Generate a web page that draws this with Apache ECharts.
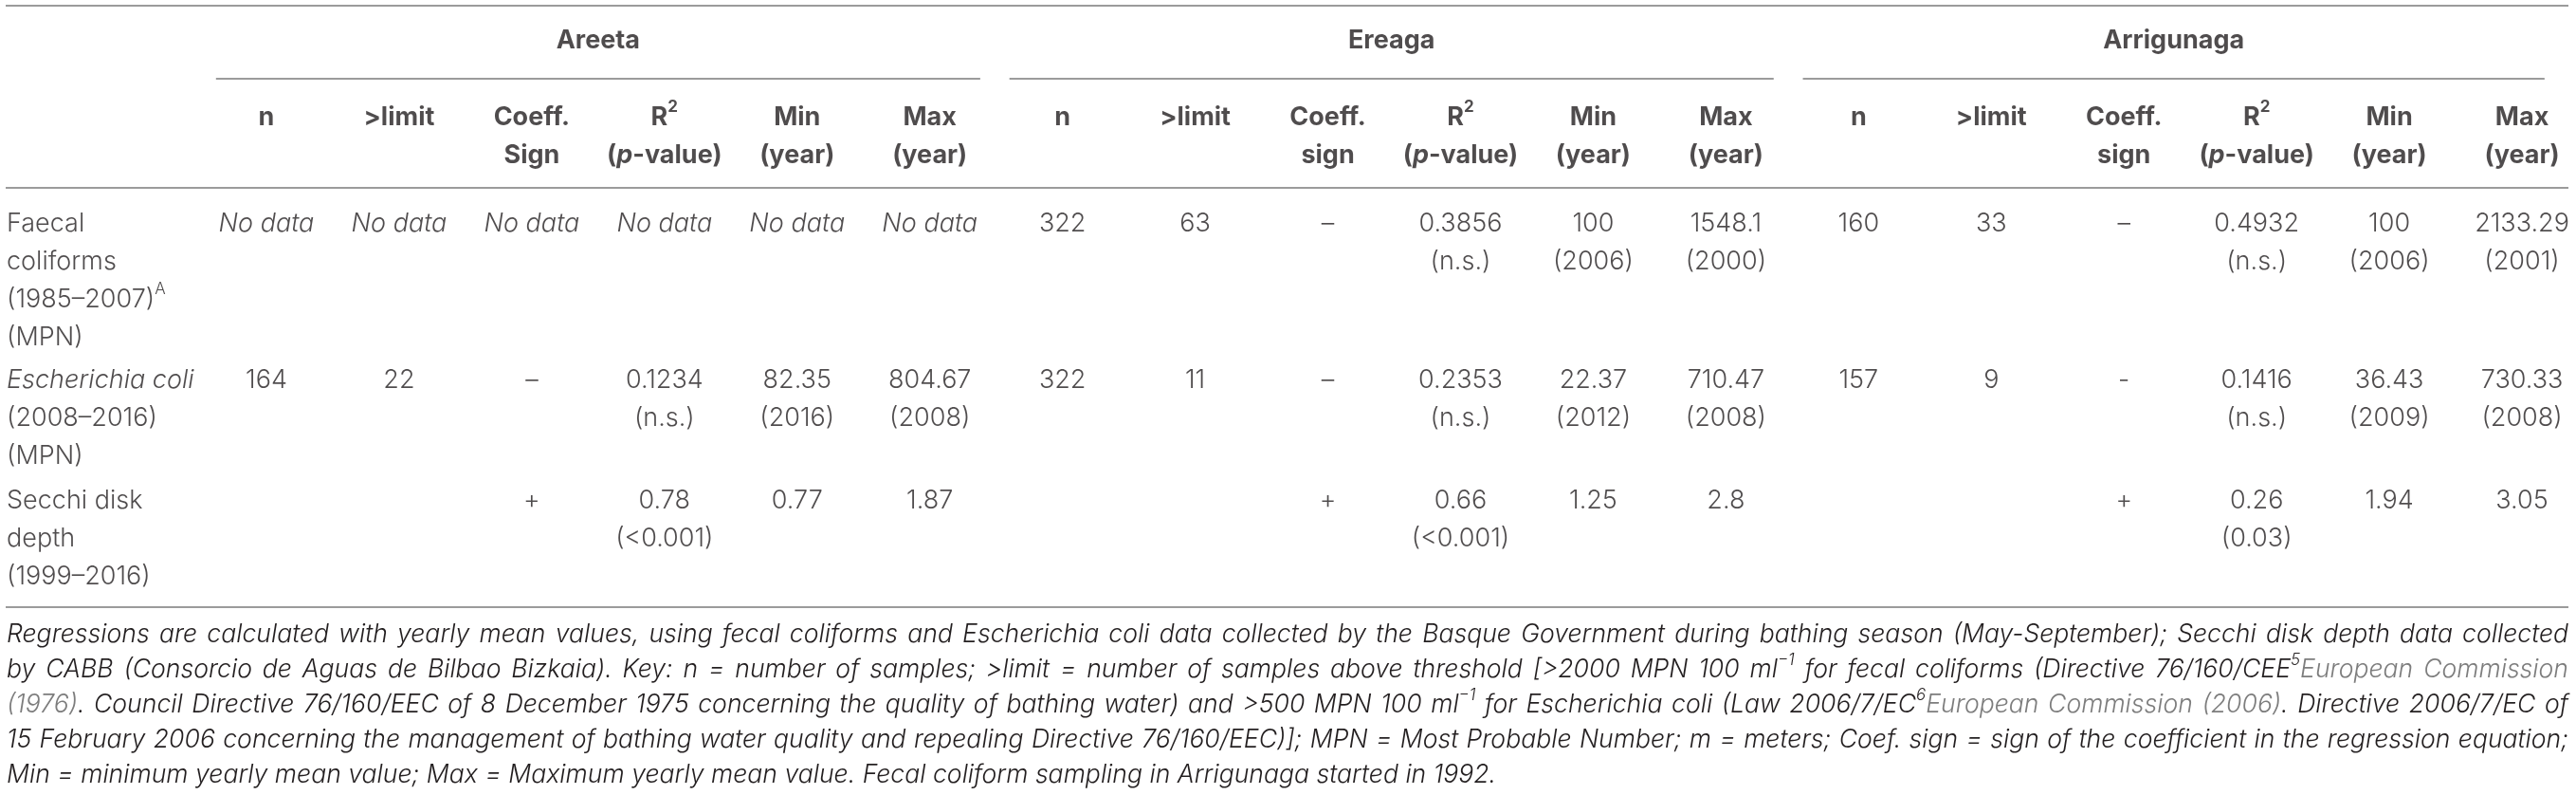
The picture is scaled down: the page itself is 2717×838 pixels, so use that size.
<!DOCTYPE html>
<html>
<head>
<meta charset="utf-8">
<title>Bathing water table</title>
<script src="https://cdn.jsdelivr.net/npm/echarts@6/dist/echarts.min.js"></script>
<style>
  html, body { margin: 0; padding: 0; background: #fff; }
  #chart { width: 2717px; height: 838px; }
</style>
</head>
<body>
<div id="chart"></div>
<script>
// table content
var sites = ['Areeta', 'Ereaga', 'Arrigunaga'];
var colHeads = [
  'n', '>limit', 'Coeff.\nSign', 'R²\n(p-value)', 'Min\n(year)', 'Max\n(year)',
  'n', '>limit', 'Coeff.\nsign', 'R²\n(p-value)', 'Min\n(year)', 'Max\n(year)',
  'n', '>limit', 'Coeff.\nsign', 'R²\n(p-value)', 'Min\n(year)', 'Max\n(year)'
];
var rowLabels = [
  'Faecal\ncoliforms\n(1985–2007)^A\n(MPN)',
  'Escherichia coli\n(2008–2016)\n(MPN)',
  'Secchi disk\ndepth\n(1999–2016)'
];
var faecal = [
  'No data', 'No data', 'No data', 'No data', 'No data', 'No data',
  '322', '63', '–', '0.3856\n(n.s.)', '100\n(2006)', '1548.1\n(2000)',
  '160', '33', '–', '0.4932\n(n.s.)', '100\n(2006)', '2133.29\n(2001)'
];
var ecoli = [
  '164', '22', '–', '0.1234\n(n.s.)', '82.35\n(2016)', '804.67\n(2008)',
  '322', '11', '–', '0.2353\n(n.s.)', '22.37\n(2012)', '710.47\n(2008)',
  '157', '9', '-', '0.1416\n(n.s.)', '36.43\n(2009)', '730.33\n(2008)'
];
var secchi = [
  '', '', '+', '0.78\n(<0.001)', '0.77', '1.87',
  '', '', '+', '0.66\n(<0.001)', '1.25', '2.8',
  '', '', '+', '0.26\n(0.03)', '1.94', '3.05'
];
var notes = [
  'Regressions are calculated with yearly mean values, using fecal coliforms and Escherichia coli data collected by the Basque Government during bathing season (May-September); Secchi disk depth data collected',
  'by CABB (Consorcio de Aguas de Bilbao Bizkaia). Key: n = number of samples; >limit = number of samples above threshold [>2000 MPN 100 ml{sup|−1} for fecal coliforms (Directive 76/160/CEE{sup|5}{ref|European Commission}',
  '{ref|(1976)}. Council Directive 76/160/EEC of 8 December 1975 concerning the quality of bathing water) and >500 MPN 100 ml{sup|−1} for Escherichia coli (Law 2006/7/EC{sup|6}{ref|European Commission (2006)}. Directive 2006/7/EC of',
  '15 February 2006 concerning the management of bathing water quality and repealing Directive 76/160/EEC)]; MPN = Most Probable Number; m = meters; Coef. sign = sign of the coefficient in the regression equation;',
  'Min = minimum yearly mean value; Max = Maximum yearly mean value. Fecal coliform sampling in Arrigunaga started in 1992.'
];

// layout (x in column units, y in pixels)
var L = {
  xMin: -0.965, xMax: 18.407, gridLeft: 6,
  labelX: -0.958,
  ruleFrom: -0.965, ruleTo: 18.35,
  ruleY: [6, 198, 640],
  groupRuleY: 83,
  spans: [[0.62, 6.38], [6.60, 12.36], [12.58, 18.17]],
  groupY: 43, headY: 124, rowY: [236, 401, 528],
  line: 40, noteLeft: 7, noteWidth: 2702, noteTop: 650, noteLine: 37
};
var FONT = 'Inter, Roboto, "Liberation Sans", sans-serif';
var CELL_SIZE = 27, NOTE_SIZE = 26.6, SUP_SIZE = 17;
var INK = '#231f20';
var REF = '#7d7d7d';
var RULE = '#9b9b9b';

function fmt(t) {
  return t.split('\n').map(function (s) {
    return s.replace('No data', '{i|No data}')
      .replace('Escherichia coli', '{i|Escherichia coli}')
      .replace('R²', 'R{sup|2}')
      .replace('(p-', '({i|p}-')
      .replace(/\^(\w)/, '{sup|$1}');
  }).join('\n');
}

function rich(weight, size, lh, italic) {
  var base = italic ? 'italic' : 'normal';
  return {
    i: { fontFamily: FONT, fontSize: size, fontWeight: weight, fontStyle: 'italic', color: INK, lineHeight: lh },
    sup: { fontFamily: FONT, fontSize: SUP_SIZE, fontWeight: weight, fontStyle: base, color: INK, lineHeight: 22, verticalAlign: 'top' },
    ref: { fontFamily: FONT, fontSize: size, fontWeight: weight, fontStyle: 'italic', color: REF, lineHeight: lh }
  };
}

function cellLabel(weight, align) {
  return {
    show: true, position: 'inside', align: align, verticalAlign: 'top',
    fontFamily: FONT, fontSize: CELL_SIZE, fontWeight: weight, color: INK, lineHeight: L.line,
    formatter: function (p) { return fmt(p.data[2]); },
    rich: rich(weight, CELL_SIZE, L.line, false)
  };
}

function textSeries(name, data, weight, align) {
  return {
    name: name, type: 'scatter', symbolSize: 0, silent: true,
    data: data, label: cellLabel(weight, align)
  };
}

function rowTop(y) { return y - L.line / 2; }

var groupData = sites.map(function (s, i) {
  return [(L.spans[i][0] + L.spans[i][1]) / 2, rowTop(L.groupY), s];
});
var headData = colHeads.map(function (h, i) { return [i + 1, rowTop(L.headY), h]; });
var rowData = rowLabels.map(function (r, i) { return [L.labelX, rowTop(L.rowY[i]), r]; });
var cellData = [];
[faecal, ecoli, secchi].forEach(function (row, r) {
  row.forEach(function (v, c) {
    if (v !== '') cellData.push([c + 1, rowTop(L.rowY[r]), v]);
  });
});

var rules = L.ruleY.map(function (y) {
  return [{ coord: [L.ruleFrom, y] }, { coord: [L.ruleTo, y] }];
}).concat(L.spans.map(function (s) {
  return [{ coord: [s[0], L.groupRuleY] }, { coord: [s[1], L.groupRuleY] }];
}));

// footnote: justify every line but the last by widening the word gaps
var noteRich = rich(300, NOTE_SIZE, L.noteLine, true);
var ctx = document.createElement('canvas').getContext('2d');
function fontOf(style) {
  var size = style === 'sup' ? SUP_SIZE : NOTE_SIZE;
  return 'italic 300 ' + size + 'px ' + FONT;
}
function measure(style, text) {
  ctx.font = fontOf(style);
  return ctx.measureText(text).width;
}
function justify(line, k) {
  var items = [];
  var re = /\{(\w+)\|([^}]*)\}|([^{]+)/g, m;
  while ((m = re.exec(line))) {
    var style = m[1] || null;
    var words = (m[1] ? m[2] : m[3]).split(' ');
    words.forEach(function (w, j) {
      if (j > 0) items.push({ gap: true });
      if (w) items.push({ style: style, text: w });
    });
  }
  var natural = 0, gaps = 0;
  items.forEach(function (it) {
    if (it.gap) gaps++;
    else natural += measure(it.style, it.text);
  });
  var space = measure(null, ' ');
  var gapW = (L.noteWidth - natural) / gaps;
  if (gapW < space * 0.6) gapW = space;
  noteRich['g' + k] = { fontFamily: FONT, fontSize: NOTE_SIZE, lineHeight: L.noteLine, width: gapW };
  return items.map(function (it) {
    if (it.gap) return '{g' + k + '|\u00a0}';
    return it.style ? '{' + it.style + '|' + it.text + '}' : it.text;
  }).join('');
}
var noteText = notes.map(function (line, k) {
  return k < notes.length - 1 ? justify(line, k) : line;
}).join('\n');

var chart = echarts.init(document.getElementById('chart'));
var groupSeries = textSeries('groups', groupData, 'bold', 'center');
groupSeries.markLine = {
  silent: true, symbol: ['none', 'none'], animation: false,
  label: { show: false },
  lineStyle: { color: RULE, width: 2, type: 'solid' },
  data: rules
};

chart.setOption({
  animation: false,
  title: {
    text: noteText,
    left: L.noteLeft, top: L.noteTop, padding: 0,
    textStyle: {
      fontFamily: FONT, fontSize: NOTE_SIZE, fontWeight: 300, fontStyle: 'italic',
      color: INK, lineHeight: L.noteLine,
      rich: noteRich
    }
  },
  grid: { left: L.gridLeft, right: 0, top: 0, bottom: 0 },
  xAxis: { type: 'value', min: L.xMin, max: L.xMax, show: false },
  yAxis: { type: 'value', inverse: true, min: 0, max: 838, show: false },
  series: [
    groupSeries,
    textSeries('heads', headData, 'bold', 'center'),
    textSeries('rows', rowData, 300, 'left'),
    textSeries('cells', cellData, 300, 'center')
  ]
});
</script>
</body>
</html>
